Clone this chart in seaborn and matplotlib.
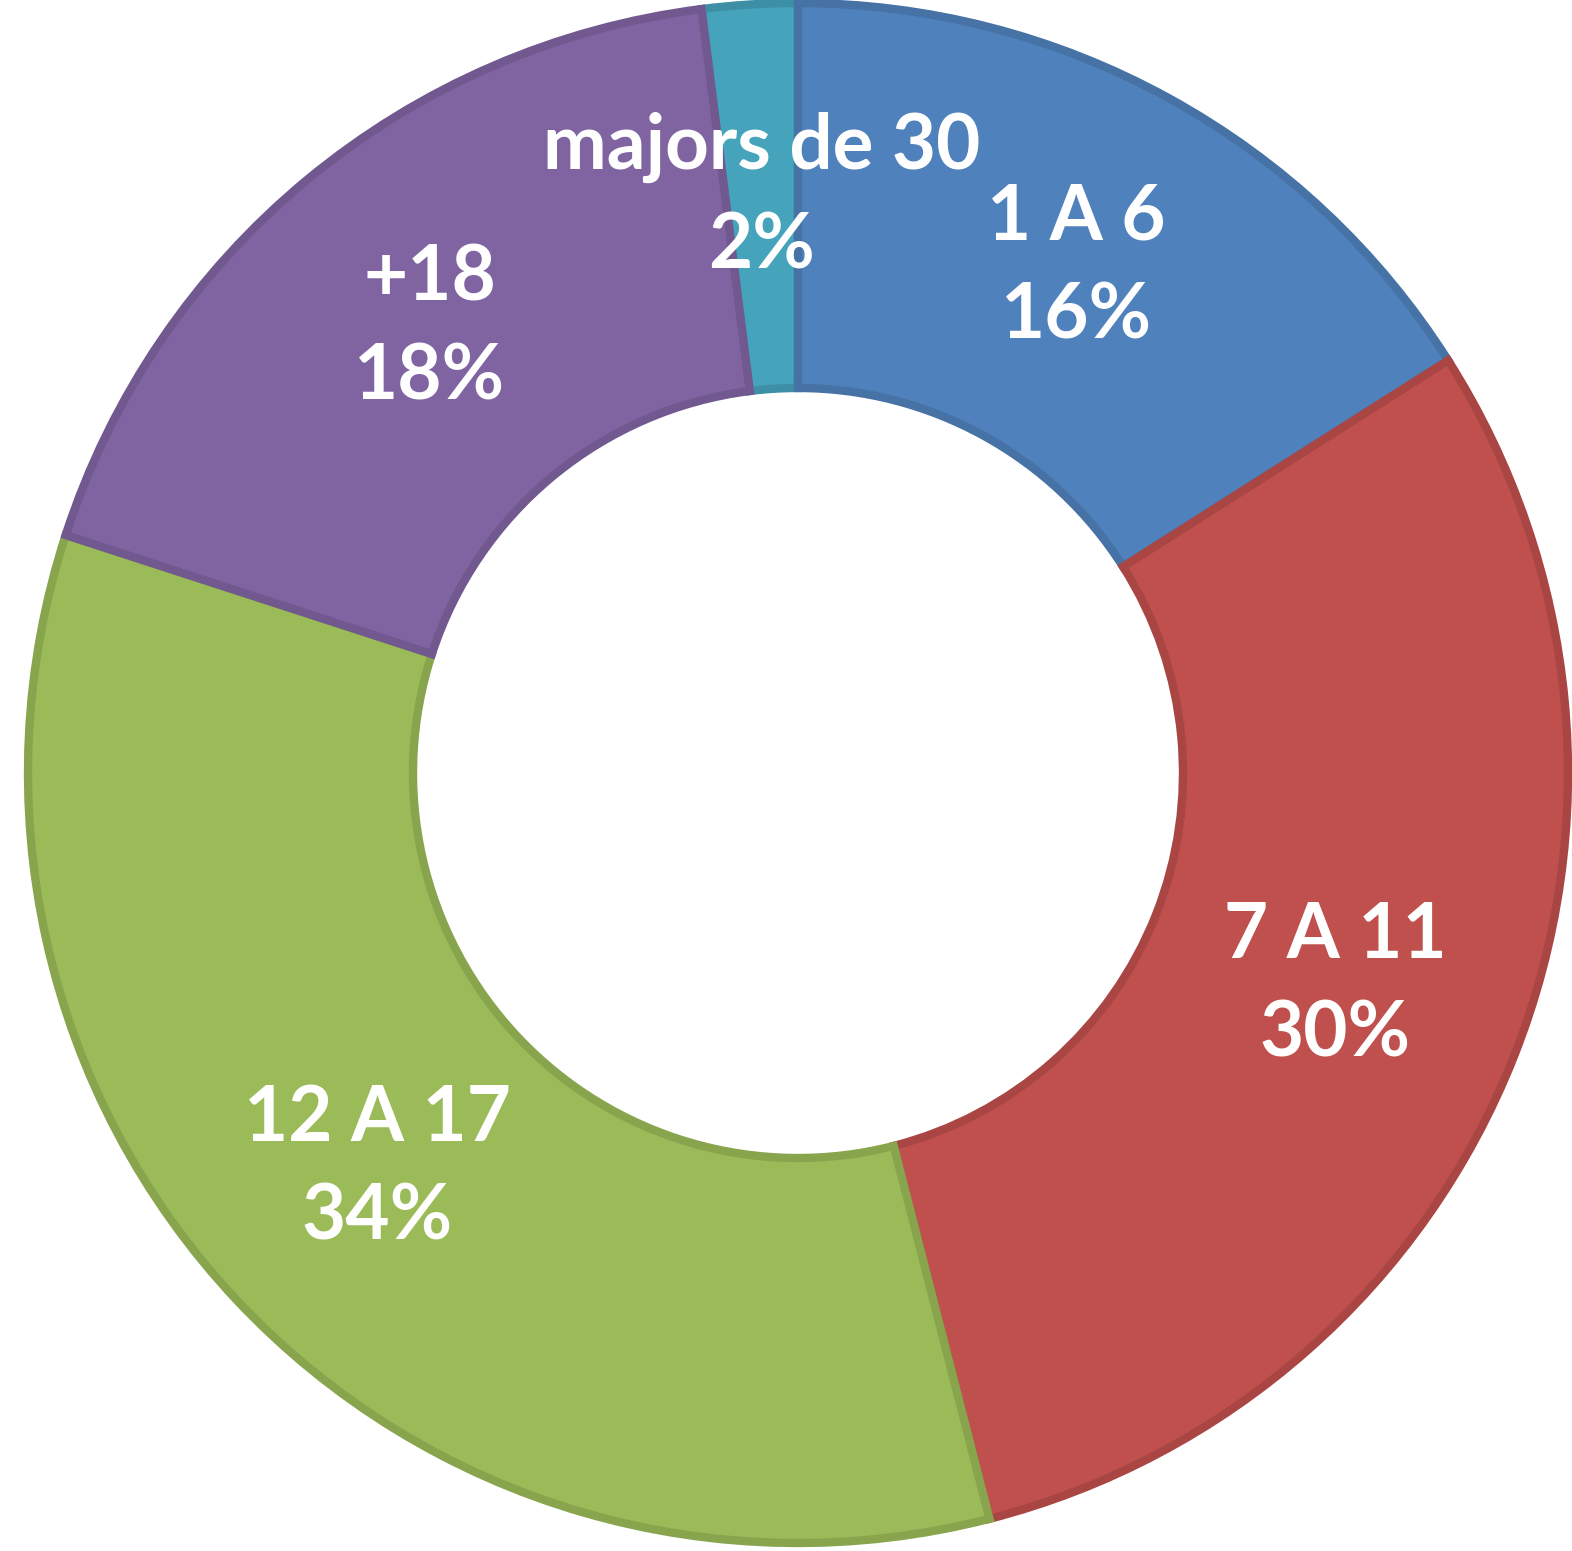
import numpy as np
import seaborn as sns
import matplotlib.pyplot as plt
import matplotlib.colors as mcolors

# dades del gràfic (en sentit horari des de dalt)
grups = ["majors de 30", "1 A 6", "7 A 11", "12 A 17", "+18"]
percentatges = [2, 16, 30, 34, 18]
colors = ["#45A3BB", "#4F81BD", "#C0504D", "#9BBB59", "#8064A2"]

sns.set_theme(style="white")
plt.rcParams["font.family"] = ["Lato", "DejaVu Sans"]

fig = plt.figure(figsize=(15.72, 15.51), dpi=100)
ax = fig.add_axes([0, 0, 1, 1])

# vores una mica més fosques, com l'efecte bisell de l'original
vores = [tuple(c * 0.88 for c in mcolors.to_rgb(col)) for col in colors]

wedges, _ = ax.pie(
    percentatges,
    colors=colors,
    startangle=90 + 360 * percentatges[0] / 100,
    counterclock=False,
    wedgeprops=dict(width=0.5, edgecolor="none"),
)
for w, v in zip(wedges, vores):
    w.set_edgecolor(v)
    w.set_linewidth(6)

# etiquetes al mig de l'anell
for w, nom, p in zip(wedges, grups, percentatges):
    ang = np.deg2rad((w.theta1 + w.theta2) / 2)
    x, y = 0.75 * np.cos(ang), 0.75 * np.sin(ang)
    ax.text(x, y, f"{nom}\n{p}%", ha="center", va="center",
            color="white", fontsize=55, fontweight="bold", linespacing=1.5)

ax.set_xlim(-798 / 770, (1572 - 798) / 770)
ax.set_ylim(-(1551 - 773) / 770, 773 / 770)
ax.set_aspect("equal")
ax.axis("off")

fig.savefig("out.png", dpi=100, facecolor="white")
